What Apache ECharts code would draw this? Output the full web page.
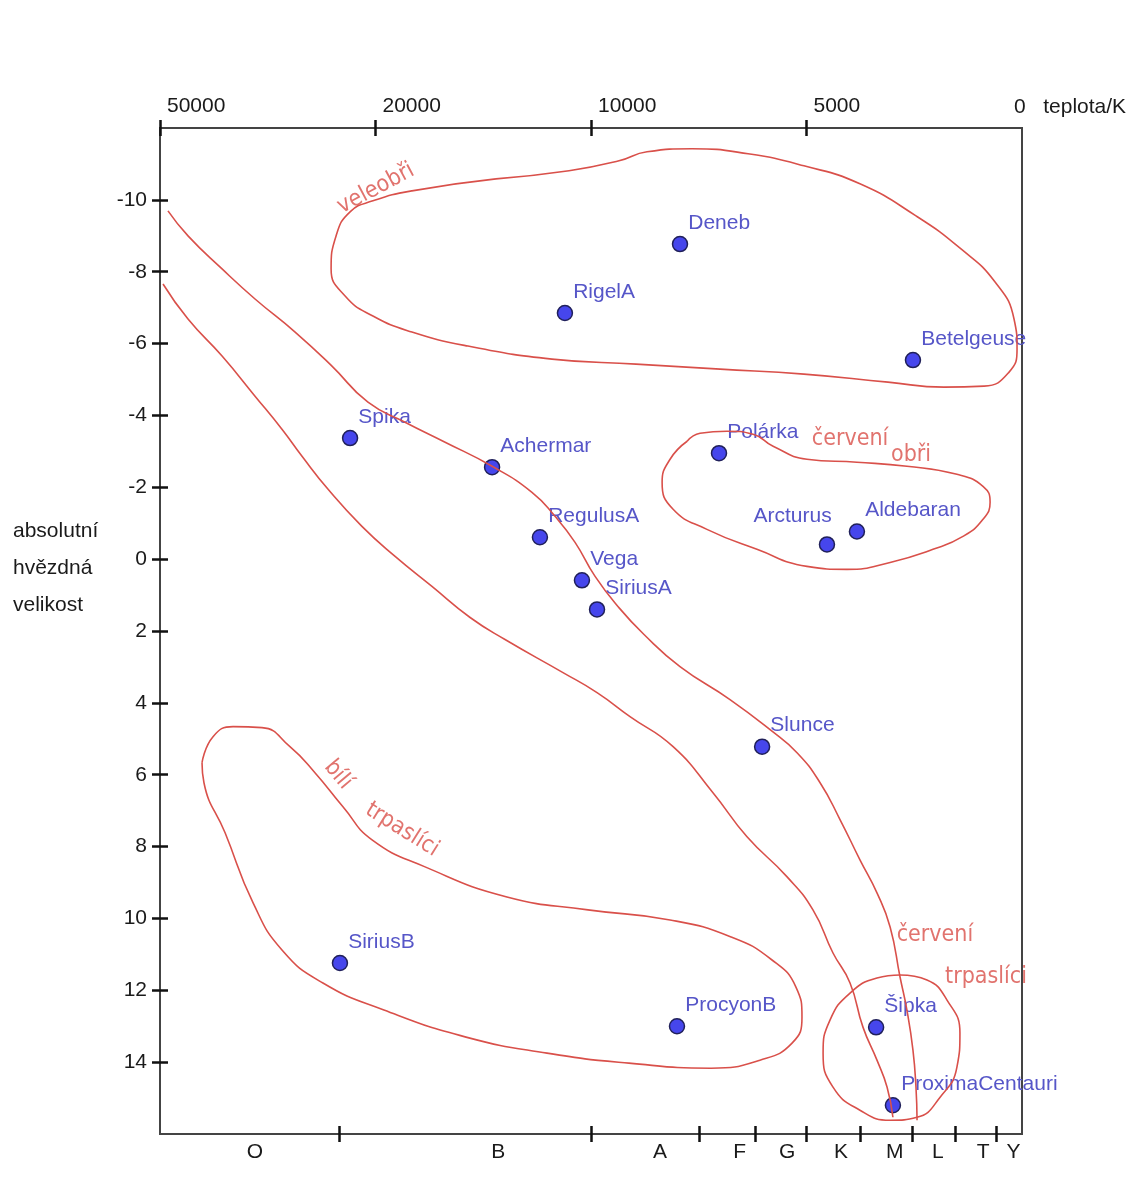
<!DOCTYPE html>
<html>
<head>
<meta charset="utf-8">
<script src="https://cdn.jsdelivr.net/npm/echarts@6/dist/echarts.min.js"></script>
<style>
html, body { margin: 0; padding: 0; background: #fff; }
#chart { width: 1138px; height: 1198px; }
</style>
</head>
<body>
<div id="chart"></div>
<script>
// poloha na ose teplot: 0 = 50000 K, 1 = 20000 K, 2 = 10000 K, 3 = 5000 K, 4 = 0 K
var tempTicks = [0, 1, 2, 3];
var tempLabels = ['50000', '20000', '10000', '5000'];
var magTicks = [-10, -8, -6, -4, -2, 0, 2, 4, 6, 8, 10, 12, 14];

// spektralni tridy (dolni osa)
var spectralClasses = ['O', 'B', 'A', 'F', 'G', 'K', 'M', 'L', 'T', 'Y'];
var spectralLabelPos = [0.44, 1.57, 2.32, 2.69, 2.91, 3.16, 3.41, 3.61, 3.82, 3.96];
var spectralBounds = [0.83, 2.0, 2.5, 2.76, 3.0, 3.25, 3.49, 3.69, 3.88];

// hvezdy
var starNames = ['Deneb', 'RigelA', 'Betelgeuse', 'Spika', 'Achermar', 'Polárka', 'RegulusA', 'Arcturus',
                 'Aldebaran', 'Vega', 'SiriusA', 'Slunce', 'SiriusB', 'ProcyonB', 'Šipka', 'ProximaCentauri'];
var starTemp = [2.413, 1.879, 3.494, 0.882, 1.541, 2.594, 1.763, 3.095,
                3.234, 1.958, 2.028, 2.794, 0.835, 2.399, 3.323, 3.401];
var starMag = [-8.77, -6.85, -5.54, -3.37, -2.56, -2.95, -0.61, -0.41,
               -0.77, 0.59, 1.40, 5.22, 11.24, 13.0, 13.03, 15.2];

// rucne kreslene oblasti
var supergiantsLoop = [[1.559,-10.585],[1.898,-10.809],[2.130,-11.087],[2.260,-11.338],[2.469,-11.422],
  [2.729,-11.282],[2.988,-10.948],[3.248,-10.446],[3.508,-9.554],[3.717,-8.634],[3.875,-7.714],
  [3.963,-6.683],[3.977,-5.847],[3.940,-5.206],[3.824,-4.815],[3.638,-4.787],[3.378,-4.927],
  [2.988,-5.150],[2.599,-5.289],[2.209,-5.429],[1.819,-5.568],[1.429,-5.930],[1.169,-6.321],
  [0.988,-6.767],[0.859,-7.324],[0.794,-8.077],[0.817,-8.997],[0.882,-9.666],[0.988,-9.972],
  [1.169,-10.251],[1.559,-10.585]];
var mainSeqUpper = [[0.037,-9.693],[0.130,-8.997],[0.288,-8.077],[0.441,-7.241],[0.627,-6.321],
  [0.798,-5.373],[0.965,-4.369],[1.137,-3.812],[1.323,-3.254],[1.541,-2.585],[1.726,-1.861],
  [1.833,-1.192],[1.926,-0.467],[2.019,0.481],[2.125,1.317],[2.246,2.098],[2.413,2.990],
  [2.645,3.909],[2.831,4.746],[2.956,5.387],[3.063,6.223],[3.156,7.254],[3.248,8.370],
  [3.327,9.289],[3.388,10.237],[3.434,11.631],[3.466,12.551],[3.494,13.666],[3.508,14.697],[3.513,15.617]];
var mainSeqLower = [[0.014,-7.659],[0.130,-6.683],[0.288,-5.652],[0.441,-4.537],[0.566,-3.617],
  [0.659,-2.864],[0.780,-1.944],[0.937,-0.913],[1.091,-0.077],[1.262,0.760],[1.439,1.624],
  [1.601,2.237],[1.870,3.157],[2.028,3.714],[2.181,4.383],[2.381,5.220],[2.566,6.502],
  [2.724,7.728],[2.910,8.843],[3.030,9.763],[3.123,10.962],[3.202,11.798],[3.262,13.025],
  [3.327,13.945],[3.374,14.697],[3.401,15.534]];
var redGiantsLoop = [[2.446,-3.282],[2.506,-3.505],[2.631,-3.561],[2.752,-3.477],[2.845,-3.143],
  [3.002,-2.781],[3.234,-2.697],[3.466,-2.585],[3.698,-2.362],[3.819,-2.028],[3.852,-1.582],
  [3.819,-1.108],[3.726,-0.634],[3.587,-0.272],[3.388,0.091],[3.188,0.286],[3.002,0.202],
  [2.770,-0.272],[2.538,-0.829],[2.381,-1.387],[2.330,-2.139],[2.367,-2.781],[2.446,-3.282]];
var whiteDwarfsLoop = [[0.195,5.666],[0.246,4.941],[0.339,4.662],[0.473,4.690],[0.603,5.220],
  [0.719,5.944],[0.849,6.892],[0.984,7.812],[1.230,8.565],[1.610,9.401],[1.986,9.763],
  [2.367,10.042],[2.650,10.516],[2.840,11.157],[2.951,11.910],[2.979,12.746],[2.933,13.471],
  [2.784,13.945],[2.557,14.168],[2.176,14.028],[1.796,13.750],[1.420,13.304],[1.039,12.551],
  [0.756,11.798],[0.566,10.878],[0.432,9.568],[0.302,7.617],[0.204,6.223],[0.195,5.666]];
var redDwarfsLoop = [[3.434,11.575],[3.559,11.714],[3.652,12.272],[3.712,13.192],[3.698,14.140],
  [3.620,14.976],[3.513,15.534],[3.388,15.617],[3.248,15.338],[3.123,14.697],[3.077,13.750],
  [3.109,12.830],[3.202,12.077],[3.327,11.659],[3.434,11.575]];

// rucne psane popisky
var noteTexts = ['veleobři', 'červení', 'obři', 'bílí', 'trpaslíci', 'červení', 'trpaslíci'];
var notePos = [[1.002, -10.31], [3.202, -3.34], [3.485, -2.89], [0.826, 6.0], [1.123, 7.53], [3.596, 10.46], [3.833, 11.63]];
var noteRotate = [28, 0, 0, -50, -32, 0, 0];

var font = "'Liberation Sans', Arial, sans-serif";
var handFont = "'DejaVu Sans Condensed', 'Liberation Sans Narrow', sans-serif";
var red = '#d9504a';

var myChart = echarts.init(document.getElementById('chart'));

var starData = starNames.map(function (n, i) {
    var item = { name: n, value: [starTemp[i], starMag[i]] };
    if (n === 'Arcturus') {
        item.label = { position: 'left', offset: [13, -28] };
    }
    return item;
});

var noteData = noteTexts.map(function (t, i) {
    return { name: t, value: notePos[i], label: { rotate: noteRotate[i] } };
});

function curve(data) {
    return {
        type: 'line',
        data: data,
        smooth: 0.5,
        symbol: 'none',
        z: 4,
        silent: true,
        lineStyle: { color: red, width: 1.6 }
    };
}

var tickStyle = { color: '#111', width: 2.5 };

var option = {
    animation: false,
    backgroundColor: '#fff',
    textStyle: { fontFamily: font },
    grid: {
        left: 160, right: 116, top: 128, bottom: 64,
        show: true, borderColor: '#444', borderWidth: 2,
        outerBoundsMode: 'none'
    },
    xAxis: [
        {   // horni osa - teplota
            type: 'value', position: 'top', min: 0, max: 4, interval: 1,
            name: '0   teplota/K', nameLocation: 'end', nameGap: -8,
            nameTextStyle: { fontSize: 21, color: '#1a1a1a', align: 'left', verticalAlign: 'bottom', padding: [0, 0, 10, 0] },
            axisLine: { onZero: false, lineStyle: { color: '#444', width: 2 } },
            axisTick: { customValues: tempTicks, length: 8, lineStyle: tickStyle },
            axisLabel: {
                customValues: tempTicks, fontSize: 21, color: '#1a1a1a', margin: 11,
                align: 'left', padding: [0, 0, 0, 7],
                formatter: function (v) { return tempLabels[tempTicks.indexOf(v)] || ''; }
            },
            splitLine: { show: false }
        },
        {   // dolni osa - spektralni tridy
            type: 'value', position: 'bottom', min: 0, max: 4,
            axisLine: { onZero: false, lineStyle: { color: '#444', width: 2 } },
            axisTick: { customValues: spectralBounds, length: 8, lineStyle: tickStyle },
            axisLabel: {
                customValues: spectralLabelPos, fontSize: 21, color: '#1a1a1a', margin: 8,
                formatter: function (v) {
                    var best = 0;
                    spectralLabelPos.forEach(function (p, i) {
                        if (Math.abs(p - v) < Math.abs(spectralLabelPos[best] - v)) best = i;
                    });
                    return spectralClasses[best];
                }
            },
            splitLine: { show: false }
        },
        {   // vnitrni cast krizku nahore
            type: 'value', position: 'top', min: 0, max: 4,
            axisLine: { show: false, onZero: false },
            axisTick: { inside: true, customValues: tempTicks, length: 8, lineStyle: tickStyle },
            axisLabel: { show: false },
            splitLine: { show: false }
        },
        {   // vnitrni cast krizku dole
            type: 'value', position: 'bottom', min: 0, max: 4,
            axisLine: { show: false, onZero: false },
            axisTick: { inside: true, customValues: spectralBounds, length: 8, lineStyle: tickStyle },
            axisLabel: { show: false },
            splitLine: { show: false }
        }
    ],
    yAxis: [
        {
            type: 'value', position: 'left', inverse: true, min: -12, max: 16, interval: 2,
            axisLine: { onZero: false, lineStyle: { color: '#444', width: 2 } },
            axisTick: { customValues: magTicks, length: 8, lineStyle: tickStyle },
            axisLabel: { customValues: magTicks, fontSize: 21, color: '#1a1a1a', margin: 13 },
            splitLine: { show: false }
        },
        {
            type: 'value', position: 'left', inverse: true, min: -12, max: 16, interval: 2,
            axisLine: { show: false, onZero: false },
            axisTick: { inside: true, customValues: magTicks, length: 8, lineStyle: tickStyle },
            axisLabel: { show: false },
            splitLine: { show: false }
        }
    ],
    graphic: [{
        type: 'text', left: 13, top: 513,
        style: {
            text: 'absolutní\nhvězdná\nvelikost',
            font: '21px ' + font, fill: '#1a1a1a', lineHeight: 37
        }
    }],
    series: [
        {
            type: 'scatter',
            data: starData,
            symbolSize: 15,
            z: 3,
            itemStyle: { color: '#4646ec', borderColor: '#20205a', borderWidth: 1.5, opacity: 1 },
            label: {
                show: true, position: 'right', distance: 0, offset: [0, -21],
                formatter: '{b}', fontSize: 21, color: '#5656c8', fontFamily: font
            }
        },
        curve(supergiantsLoop),
        curve(mainSeqUpper),
        curve(mainSeqLower),
        curve(redGiantsLoop),
        curve(whiteDwarfsLoop),
        curve(redDwarfsLoop),
        {
            type: 'scatter',
            data: noteData,
            symbolSize: 0,
            z: 5,
            silent: true,
            label: {
                show: true, position: 'inside', formatter: '{b}',
                fontSize: 23, color: red, fontFamily: handFont
            }
        }
    ]
};

myChart.setOption(option, true);
</script>
</body>
</html>
